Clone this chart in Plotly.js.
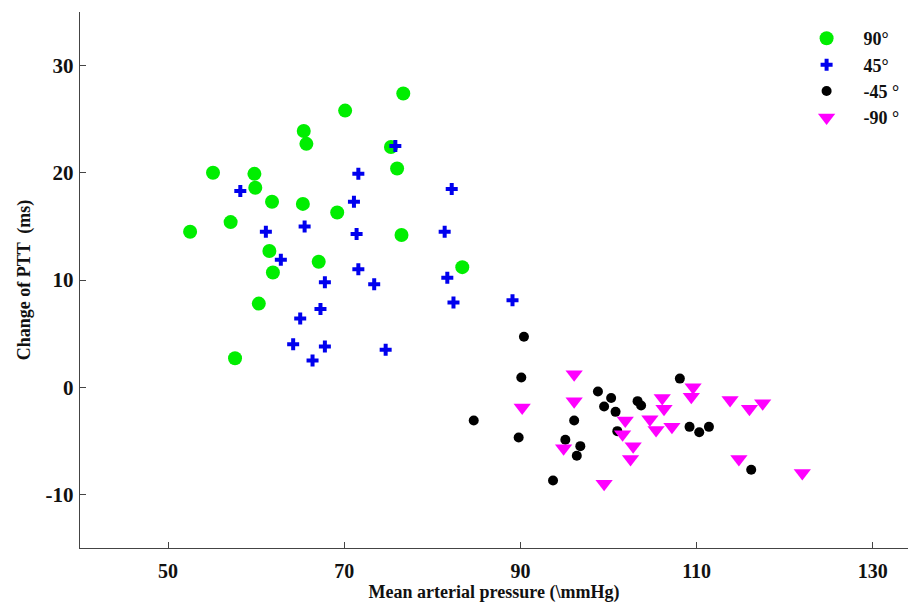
<!DOCTYPE html>
<html>
<head>
<meta charset="utf-8">
<script src="https://cdn.plot.ly/plotly-3.0.1.min.js"></script>
<style>html,body{margin:0;padding:0;background:#fff;}#chart{width:908px;height:606px;}</style>
</head>
<body>
<div id="chart"></div>
<script>
// 90 degrees
const x90 = [52.5, 55.1, 57.1, 57.6, 59.8, 59.9, 60.3, 61.8, 61.5, 61.9, 65.4, 65.7, 65.3, 67.1, 69.2, 70.1, 75.3, 76.0, 76.7, 76.5, 83.4];
const y90 = [14.5, 20.0, 15.4, 2.7, 19.9, 18.6, 7.8, 17.3, 12.7, 10.7, 23.9, 22.7, 17.1, 11.7, 16.3, 25.8, 22.4, 20.4, 27.4, 14.2, 11.2];
// 45 degrees
const x45 = [58.2, 61.1, 62.8, 65.0, 64.2, 65.5, 66.4, 67.3, 67.8, 67.8, 71.1, 71.6, 71.4, 71.6, 73.4, 74.7, 75.8, 81.4, 81.7, 82.2, 82.4, 89.1];
const y45 = [18.3, 14.5, 11.9, 6.4, 4.0, 15.0, 2.5, 7.3, 9.8, 3.8, 17.3, 19.9, 14.3, 11.0, 9.6, 3.5, 22.5, 14.5, 10.2, 18.5, 7.9, 8.1];
// -45 degrees
const xm45 = [90.4, 90.1, 84.7, 89.8, 96.1, 98.8, 100.3, 99.5, 100.8, 103.3, 103.7, 101.0, 95.1, 96.8, 96.4, 93.7, 108.1, 109.2, 110.3, 111.4, 116.2];
const ym45 = [4.7, 0.9, -3.1, -4.7, -3.1, -0.4, -1.0, -1.8, -2.3, -1.3, -1.7, -4.1, -4.9, -5.5, -6.4, -8.7, 0.8, -3.7, -4.2, -3.7, -7.7];
// -90 degrees
const xm90 = [90.2, 96.1, 96.1, 94.9, 99.5, 101.9, 101.6, 102.8, 102.5, 104.7, 105.4, 106.1, 106.3, 107.2, 109.6, 109.4, 113.8, 116.0, 117.5, 114.8, 122.0];
const ym90 = [-1.9, 1.2, -1.3, -5.7, -9.0, -3.1, -4.4, -5.5, -6.7, -3.0, -4.0, -1.0, -2.0, -3.7, 0.0, -0.9, -1.2, -2.0, -1.5, -6.7, -8.0];

const xTicks = [50, 70, 90, 110, 130];
const yTicks = [-10, 0, 10, 20, 30];
const names = ['90°', '45°', '-45 °', '-90 °'];

const FONT = '"Liberation Serif", "Times New Roman", serif';

const traces = [
  {x: x90, y: y90, name: names[0], type: 'scatter', mode: 'markers',
   marker: {symbol: 'circle', size: 14, color: '#00ee00', line: {width: 0}}},
  {x: x45, y: y45, name: names[1], type: 'scatter', mode: 'markers',
   marker: {symbol: 'cross', size: 10, color: '#0000ee', line: {width: 0}}},
  {x: xm45, y: ym45, name: names[2], type: 'scatter', mode: 'markers',
   marker: {symbol: 'circle', size: 10, color: '#000000', line: {width: 0}}},
  {x: xm90, y: ym90, name: names[3], type: 'scatter', mode: 'markers',
   marker: {symbol: 'triangle-down', size: 15, color: '#ff00ff', line: {width: 0}}}
];

const axisCommon = {
  showgrid: false, zeroline: false, showline: true, linecolor: '#444', linewidth: 1.3,
  ticks: 'inside', ticklen: 6, tickcolor: '#444', tickwidth: 1
};

const layout = {
  width: 908, height: 606,
  margin: {l: 80, r: 0, t: 12, b: 58},
  paper_bgcolor: '#fff', plot_bgcolor: '#fff',
  font: {family: FONT},
  showlegend: true,
  legend: {x: 0.857, y: 0.985, xanchor: 'left', yanchor: 'top', bgcolor: 'rgba(0,0,0,0)',
           itemwidth: 64,
           font: {family: FONT, size: 18, color: '#111', weight: 'bold'}, tracegroupgap: 0},
  xaxis: Object.assign({}, axisCommon, {
    range: [40, 134], tickvals: xTicks, ticktext: xTicks.map(String),
    ticklabelstandoff: 5,
    tickfont: {family: FONT, size: 20, color: '#111', weight: 'bold'},
    title: {text: 'Mean arterial pressure (\\mmHg)', standoff: 2,
            font: {family: FONT, size: 18, color: '#111', weight: 'bold'}}
  }),
  yaxis: Object.assign({}, axisCommon, {
    range: [-15, 35], tickvals: yTicks, ticktext: yTicks.map(String),
    ticklabelstandoff: 1,
    tickfont: {family: FONT, size: 21, color: '#111', weight: 'bold'},
    title: {text: 'Change of PTT  (ms)', standoff: 10,
            font: {family: FONT, size: 18, color: '#111', weight: 'bold'}}
  })
};

Plotly.newPlot('chart', traces, layout, {displayModeBar: false, staticPlot: true});
</script>
</body>
</html>
